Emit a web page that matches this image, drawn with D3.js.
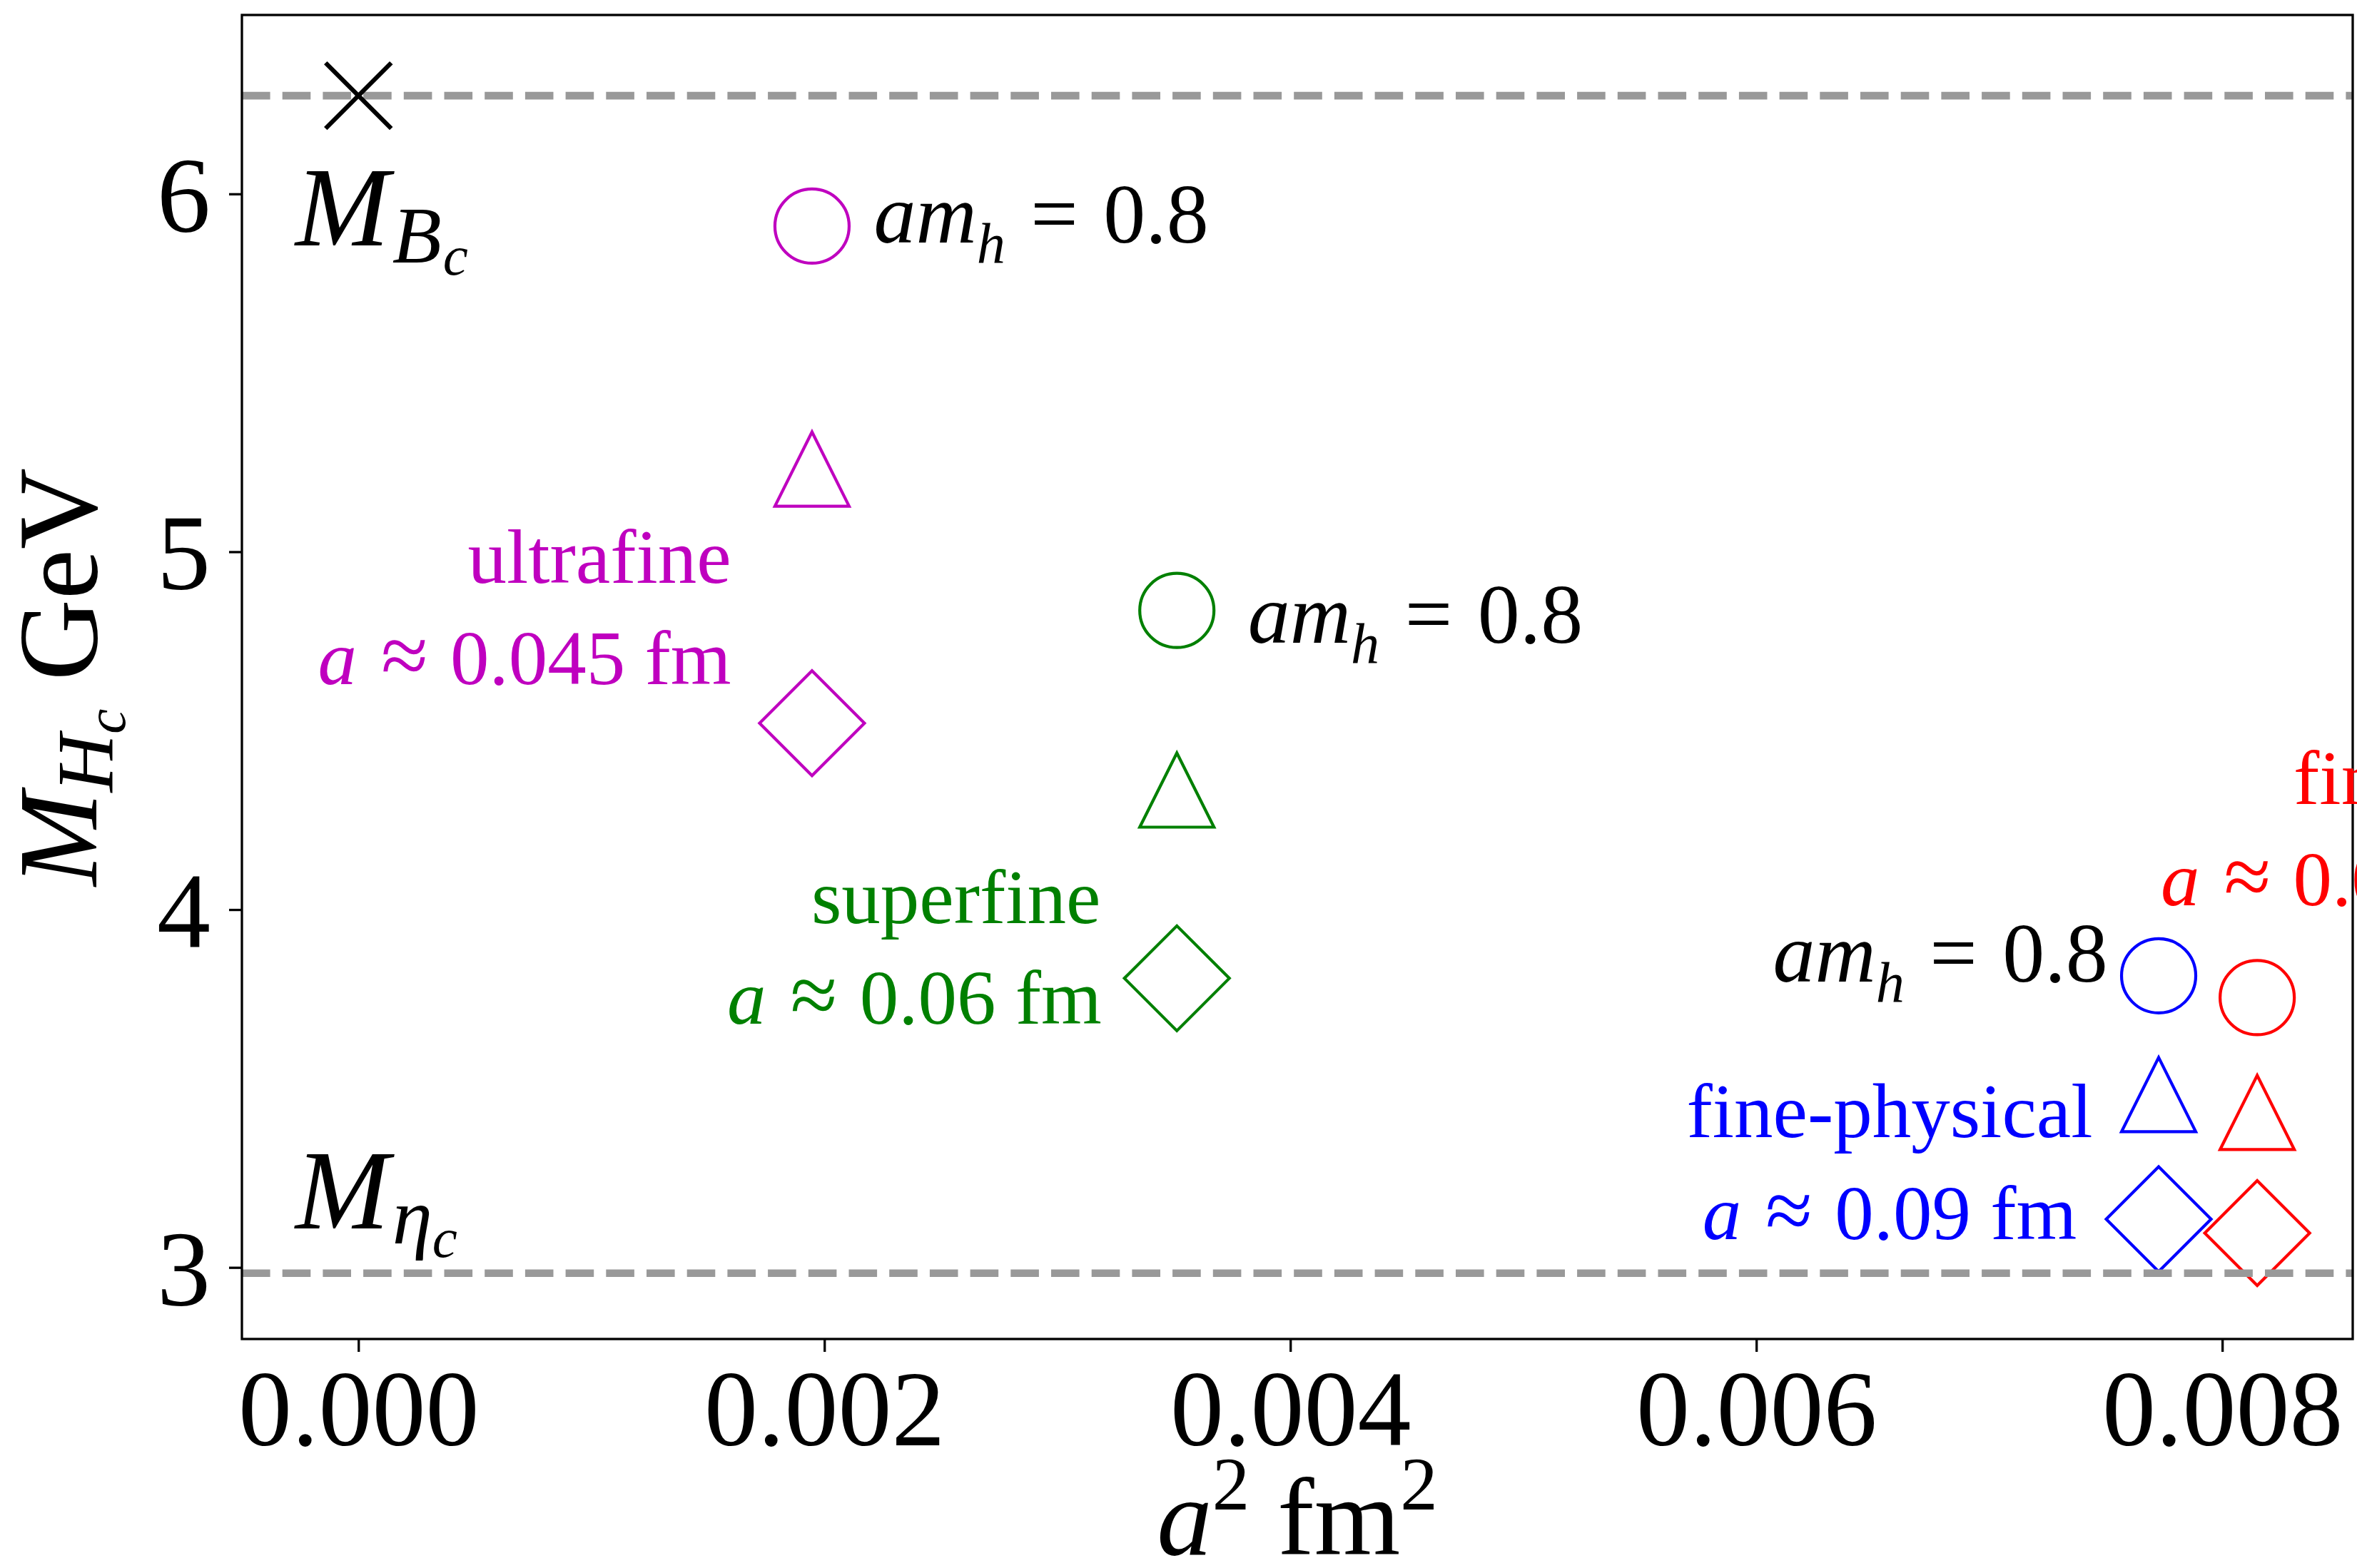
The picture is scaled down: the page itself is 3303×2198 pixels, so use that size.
<!DOCTYPE html>
<html>
<head>
<meta charset="utf-8">
<script src="https://cdn.jsdelivr.net/npm/d3@7/dist/d3.min.js"></script>
<style>
  html, body { margin: 0; padding: 0; background: #fff; }
  svg { display: block; }
  text { font-family: "Liberation Serif", "DejaVu Serif", serif; }
</style>
</head>
<body>
<script>
// ---- data -------------------------------------------------------------
// lattice ensembles: a^2 in fm^2 and heavy-charm meson masses in GeV
const ensembles      = ["ultrafine", "superfine", "fine-physical", "fine"];
const ensembleColors = ["#bf00bf", "#008000", "#0000ff", "#ff0000"];
const spacingFm      = ["0.045", "0.06", "0.09", "0.09"];
const a2             = [0.001947, 0.003513, 0.007727, 0.00815];
const massHeavy      = [5.910, 4.836, 3.815, 3.754];   // circles (am_h = 0.8)
const massMid        = [5.231, 4.334, 3.483, 3.433];   // triangles
const massLight      = [4.521, 3.808, 3.135, 3.096];   // diamonds

// physical reference masses
const refNames  = ["B_c", "eta_c"];
const refMasses = [6.2745, 2.9839];

// axis ticks
const xTicks      = [0, 0.002, 0.004, 0.006, 0.008];
const xTickLabels = ["0.000", "0.002", "0.004", "0.006", "0.008"];
const yTicks      = [3, 4, 5, 6];
const yTickLabels = ["3", "4", "5", "6"];

// annotation anchors, in data units (a^2, GeV)
const amhLabelX  = [0.002212, 0.003818, 0.007509];
const amhLabelY  = [5.864, 4.746, 3.799];
const nameLabelX = [0.0016, 0.003186, 0.006572, 0.008306];
const nameLabelY = [4.913, 3.963, 3.364, 4.296];
const specLabelX = [0.0016, 0.00319, 0.006572, 0.007736];
const specLabelY = [4.630, 3.681, 3.080, 4.012];
const refLabelX  = [-0.00027, -0.00027];
const refLabelY  = [5.856, 3.109];

// ---- layout -----------------------------------------------------------
const W = 3303, H = 2198;
const plot = { left: 339, right: 3297, top: 21, bottom: 1877 };

const svg = d3.select("body").append("svg")
  .attr("width", W).attr("height", H)
  .attr("viewBox", `0 0 ${W} ${H}`);

const x = d3.scaleLinear().domain([-0.0005, 0.00856]).range([plot.left, plot.right]);
const y = d3.scaleLinear().domain([2.8, 6.5]).range([plot.bottom, plot.top]);

svg.append("defs").append("clipPath").attr("id", "plot-clip")
  .append("rect")
  .attr("x", plot.left).attr("y", plot.top)
  .attr("width", plot.right - plot.left).attr("height", plot.bottom - plot.top);

// rich text helper: parts = [{t, it, size, shift, dx}] ; shift is px below baseline
function richText(parent, px, py, parts, opts) {
  const t = parent.append("text")
    .attr("x", px).attr("y", py)
    .attr("text-anchor", opts.anchor || "start")
    .attr("fill", opts.color || "#000");
  let cur = 0;
  parts.forEach(p => {
    const s = p.shift || 0;
    const ts = t.append("tspan")
      .attr("font-size", p.size)
      .attr("font-style", p.it ? "italic" : "normal")
      .attr("dy", s - cur)
      .text(p.t);
    if (p.dx) ts.attr("dx", p.dx);
    cur = s;
  });
  return t;
}

// ---- axes -------------------------------------------------------------
const tickFont = 150;
const xAxis = d3.axisBottom(x)
  .tickValues(xTicks)
  .tickFormat((d, i) => xTickLabels[i])
  .tickSize(18).tickPadding(24).tickSizeOuter(0);
const yAxis = d3.axisLeft(y)
  .tickValues(yTicks)
  .tickFormat((d, i) => yTickLabels[i])
  .tickSize(18).tickPadding(26).tickSizeOuter(0);

const gx = svg.append("g").attr("transform", `translate(0,${plot.bottom})`).call(xAxis);
const gy = svg.append("g").attr("transform", `translate(${plot.left},0)`).call(yAxis);
[gx, gy].forEach(g => {
  g.select(".domain").remove();
  g.selectAll(".tick line").attr("stroke", "#000").attr("stroke-width", 3.3);
  g.selectAll(".tick text")
    .attr("fill", "#000")
    .attr("font-family", "Liberation Serif, DejaVu Serif, serif")
    .attr("font-size", tickFont);
});
gy.selectAll(".tick text").attr("dy", "0.35em");

// ---- markers ----------------------------------------------------------
const plotG = svg.append("g").attr("clip-path", "url(#plot-clip)");
const R = 52, TRI = 52, DIA = 73.5, MSW = 4.2;

const circlePath   = (cx, cy) => `M${cx + R},${cy}A${R},${R} 0 1,1 ${cx - R},${cy}A${R},${R} 0 1,1 ${cx + R},${cy}Z`;
const trianglePath = (cx, cy) => `M${cx},${cy - TRI}L${cx - TRI},${cy + TRI}L${cx + TRI},${cy + TRI}Z`;
const diamondPath  = (cx, cy) => `M${cx},${cy - DIA}L${cx + DIA},${cy}L${cx},${cy + DIA}L${cx - DIA},${cy}Z`;

const series = [
  { values: massHeavy, shape: circlePath },
  { values: massMid,   shape: trianglePath },
  { values: massLight, shape: diamondPath }
];
series.forEach(s => {
  plotG.selectAll(null)
    .data(ensembles.map((e, i) => ({ i, xv: a2[i], yv: s.values[i] })))
    .enter().append("path")
    .attr("d", d => s.shape(x(d.xv), y(d.yv)))
    .attr("fill", "none")
    .attr("stroke", d => ensembleColors[d.i])
    .attr("stroke-width", MSW)
    .attr("stroke-linejoin", "miter");
});

// reference mass lines
plotG.selectAll(null).data(refMasses).enter().append("line")
  .attr("x1", plot.left).attr("x2", plot.right)
  .attr("y1", d => y(d)).attr("y2", d => y(d))
  .attr("stroke", "#999999")
  .attr("stroke-width", 10.7)
  .attr("stroke-dasharray", "39.6,17.1");

// physical B_c at the continuum limit
const XH = 46;
const cx0 = x(0), cy0 = y(refMasses[0]);
plotG.append("path")
  .attr("d", `M${cx0 - XH},${cy0 - XH}L${cx0 + XH},${cy0 + XH}M${cx0 - XH},${cy0 + XH}L${cx0 + XH},${cy0 - XH}`)
  .attr("stroke", "#000").attr("stroke-width", 6.3).attr("fill", "none");

// ---- frame ------------------------------------------------------------
svg.append("rect")
  .attr("x", plot.left).attr("y", plot.top)
  .attr("width", plot.right - plot.left).attr("height", plot.bottom - plot.top)
  .attr("fill", "none").attr("stroke", "#000").attr("stroke-width", 3.3);

// ---- annotations ------------------------------------------------------
const amhSize = 118;
const amhAnchors = ["start", "start", "end"];
amhLabelX.forEach((xv, i) => {
  richText(svg, x(xv), y(amhLabelY[i]), [
    { t: "am", it: true, size: amhSize },
    { t: "h", it: true, size: amhSize * 0.68, shift: 28 },
    { t: " =", size: amhSize, shift: 0, dx: 6 },
    { t: " 0.8", size: amhSize, shift: 0, dx: 6 }
  ], { anchor: amhAnchors[i] });
});

const labSize = 109;
const labAnchors = ["end", "end", "middle", "start"];
ensembles.forEach((name, i) => {
  richText(svg, x(nameLabelX[i]), y(nameLabelY[i]), [
    { t: name, size: labSize }
  ], { anchor: labAnchors[i], color: ensembleColors[i] });
  richText(svg, x(specLabelX[i]), y(specLabelY[i]), [
    { t: "a", it: true, size: labSize },
    { t: " \u2248", size: labSize * 1.1, dx: 4 },
    { t: " " + spacingFm[i] + " fm", size: labSize, dx: 4 }
  ], { anchor: labAnchors[i], color: ensembleColors[i] });
});

const bigSize = 158;
richText(svg, x(refLabelX[0]), y(refLabelY[0]), [
  { t: "M", it: true, size: bigSize },
  { t: "B", it: true, size: 113, shift: 24, dx: 4 },
  { t: "c", it: true, size: 79, shift: 41, dx: 2 }
], {});
richText(svg, x(refLabelX[1]), y(refLabelY[1]), [
  { t: "M", it: true, size: bigSize },
  { t: "\u03b7", it: true, size: 113, shift: 21, dx: 4 },
  { t: "c", it: true, size: 79, shift: 40 }
], {});

// axis titles
richText(svg, (plot.left + plot.right) / 2, 2179, [
  { t: "a", it: true, size: 155 },
  { t: "2", size: 105, shift: -63 },
  { t: " fm", size: 155, shift: 0 },
  { t: "2", size: 105, shift: -63 }
], { anchor: "middle" });

const yTitle = svg.append("g")
  .attr("transform", `translate(135,${(plot.top + plot.bottom) / 2}) rotate(-90)`);
richText(yTitle, 0, 0, [
  { t: "M", it: true, size: bigSize },
  { t: "H", it: true, size: 113, shift: 22 },
  { t: "c", it: true, size: 79, shift: 40 },
  { t: " GeV", size: bigSize, shift: 0 }
], { anchor: "middle" });
</script>
</body>
</html>
